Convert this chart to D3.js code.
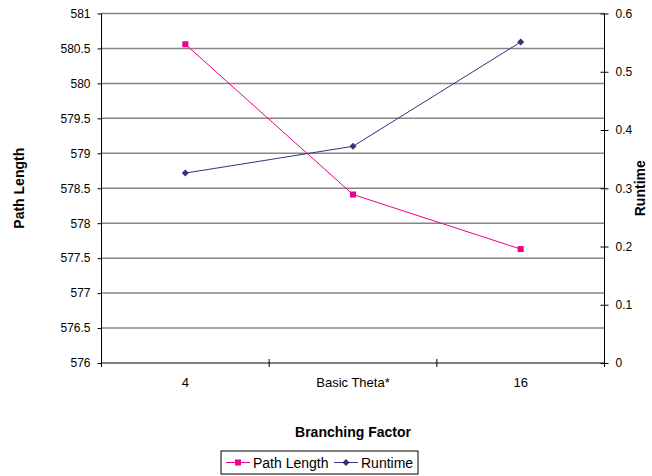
<!DOCTYPE html>
<html><head><meta charset="utf-8">
<script src="https://cdn.jsdelivr.net/npm/d3@7/dist/d3.min.js"></script>
<style>
body{margin:0;background:#fff;}
text{font-family:"Liberation Sans",Arial,sans-serif;}
</style></head>
<body><svg id="c" width="652" height="476"></svg>
<script>
const categories = ["4", "Basic Theta*", "16"];
const pathLength = [580.56, 578.41, 577.63];
const runtime = [0.326, 0.372, 0.551];
const leftTicks = [576, 576.5, 577, 577.5, 578, 578.5, 579, 579.5, 580, 580.5, 581];
const rightTicks = [0, 0.1, 0.2, 0.3, 0.4, 0.5, 0.6];

const svg = d3.select("#c");
const L = 101.5, R = 604.5, T = 13.5, B = 363;
const x = d3.scaleBand().domain(categories).range([L, R]);
const yL = d3.scaleLinear().domain([576, 581]).range([B, T]);
const yR = d3.scaleLinear().domain([0, 0.6]).range([B, T]);
const pink = "#ec008c", navy = "#333377";

// gridlines
svg.append("g").selectAll("line").data(leftTicks.slice(1)).join("line")
  .attr("x1", L).attr("x2", R).attr("y1", d => yL(d)).attr("y2", d => yL(d))
  .attr("stroke", "#858585").attr("stroke-width", 1.5);

// left axis
const gl = svg.append("g").attr("transform", `translate(${L},0)`)
  .call(d3.axisLeft(yL).tickValues(leftTicks).tickSize(4).tickPadding(7).tickFormat(d => d3.format("")(d)));
gl.select(".domain").attr("stroke", "#000").attr("d", `M0,${B}V${T}`);
gl.selectAll("text").attr("font-size", 12).attr("fill", "#000");

// right axis
const gr = svg.append("g").attr("transform", `translate(${R},0)`)
  .call(d3.axisRight(yR).tickValues(rightTicks).tickSize(4).tickPadding(7).tickFormat(d => d === 0 ? "0" : d3.format(".1f")(d)));
gr.select(".domain").attr("stroke", "#000").attr("d", `M0,${B}V${T}`);
gr.selectAll(".tick line").attr("x1", -4).attr("x2", 4);
gr.selectAll("text").attr("font-size", 12).attr("fill", "#000");

// x axis
const boundaries = [L].concat(categories.map(c => x(c) + x.bandwidth()));
const gx = svg.append("g");
gx.append("line").attr("x1", L).attr("x2", R).attr("y1", B).attr("y2", B).attr("stroke", "#000");
gx.selectAll("line.t").data(boundaries).join("line").attr("class", "t")
  .attr("x1", d => d).attr("x2", d => d).attr("y1", B - 4).attr("y2", B + 4).attr("stroke", "#000");
gx.selectAll("text").data(categories).join("text")
  .attr("x", d => x(d) + x.bandwidth() / 2).attr("y", B + 24)
  .attr("text-anchor", "middle").attr("font-size", 13).text(d => d);

const cx = d => x(d) + x.bandwidth() / 2;

// Path length
svg.append("path").datum(pathLength)
  .attr("d", d3.line().x((d, i) => cx(categories[i])).y(d => yL(d)))
  .attr("fill", "none").attr("stroke", pink).attr("stroke-width", 1);
svg.append("g").selectAll("rect").data(pathLength).join("rect")
  .attr("x", (d, i) => cx(categories[i]) - 3).attr("y", d => yL(d) - 3)
  .attr("width", 6).attr("height", 6).attr("fill", pink);

// Runtime
svg.append("path").datum(runtime)
  .attr("d", d3.line().x((d, i) => cx(categories[i])).y(d => yR(d)))
  .attr("fill", "none").attr("stroke", navy).attr("stroke-width", 1);
svg.append("g").selectAll("path").data(runtime).join("path")
  .attr("d", (d, i) => { const px = cx(categories[i]), py = yR(d); return `M${px},${py-3.5}L${px+3.5},${py}L${px},${py+3.5}L${px-3.5},${py}Z`; })
  .attr("fill", navy);

// axis titles
svg.append("text").attr("transform", `translate(24,${(T + B) / 2}) rotate(-90)`)
  .attr("text-anchor", "middle").attr("font-size", 14).attr("font-weight", "bold").text("Path Length");
svg.append("text").attr("transform", `translate(645,${(T + B) / 2}) rotate(-90)`)
  .attr("text-anchor", "middle").attr("font-size", 14).attr("font-weight", "bold").text("Runtime");
svg.append("text").attr("x", (L + R) / 2).attr("y", 436.5)
  .attr("text-anchor", "middle").attr("font-size", 14).attr("font-weight", "bold").text("Branching Factor");

// legend
const lg = svg.append("g");
lg.append("rect").attr("x", 221).attr("y", 451).attr("width", 197).attr("height", 23)
  .attr("fill", "#fff").attr("stroke", "#000").attr("stroke-width", 1);
const items = [{name: "Path Length", color: pink, shape: "sq", x0: 226, tx: 253},
               {name: "Runtime", color: navy, shape: "di", x0: 334, tx: 361}];
items.forEach(it => {
  lg.append("line").attr("x1", it.x0).attr("x2", it.x0 + 24).attr("y1", 462.5).attr("y2", 462.5)
    .attr("stroke", it.color).attr("stroke-width", 1);
  const mx = it.x0 + 12, my = 462.5;
  if (it.shape === "sq") lg.append("rect").attr("x", mx - 3).attr("y", my - 3).attr("width", 6).attr("height", 6).attr("fill", it.color);
  else lg.append("path").attr("d", `M${mx},${my-3.5}L${mx+3.5},${my}L${mx},${my+3.5}L${mx-3.5},${my}Z`).attr("fill", it.color);
  lg.append("text").attr("x", it.tx).attr("y", 467.5).attr("font-size", 14).text(it.name);
});
</script></body></html>
